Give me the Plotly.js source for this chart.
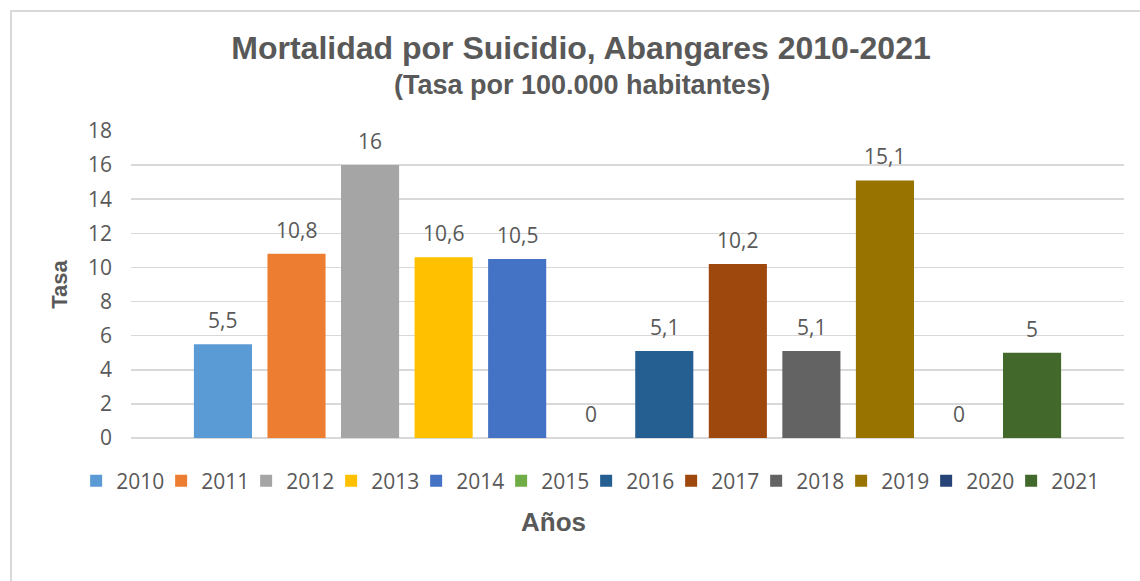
<!DOCTYPE html>
<html>
<head>
<meta charset="utf-8">
<script src="https://cdn.plot.ly/plotly-3.0.1.min.js"></script>
<style>
html, body { margin:0; padding:0; background:#fff; overflow:hidden; }
#chart { position:absolute; left:0; top:0; width:1140px; height:581px; }
#frame { position:absolute; left:10px; top:10px; width:1200px; height:700px; border:2px solid #d9d9d9; pointer-events:none; box-sizing:border-box; }
</style>
</head>
<body>
<div id="chart"></div>
<div id="frame"></div>
<script>
const years = ['2010','2011','2012','2013','2014','2015','2016','2017','2018','2019','2020','2021'];
const tasa = [5.5, 10.8, 16, 10.6, 10.5, 0, 5.1, 10.2, 5.1, 15.1, 0, 5];
const colors = ['#5B9BD5','#ED7D31','#A5A5A5','#FFC000','#4472C4','#70AD47','#255E91','#9E480E','#636363','#997300','#264478','#43682B'];
const yTicks = [0, 2, 4, 6, 8, 10, 12, 14, 16, 18];

const txtColor = '#595959';
const traces = years.map((y, i) => ({
  type: 'bar',
  name: y,
  x: [y],
  y: [tasa[i]],
  width: 0.79,
  marker: { color: colors[i], line: { width: 0 } },
  hoverinfo: 'name+y'
}));

// data labels: category axis position given by category index
const annotations = years.map((y, i) => ({
  x: years.indexOf(y), y: tasa[i], xref: 'x', yref: 'y',
  text: String(tasa[i]).replace('.', ','),
  showarrow: false, yanchor: 'bottom', yshift: 8,
  font: { family: 'Open Sans', size: 21, color: txtColor }
}));
annotations.push({
  xref: 'paper', yref: 'paper', x: (553 - 131) / 993, y: -(522 - 438) / 307,
  xanchor: 'center', yanchor: 'middle', showarrow: false,
  text: '<b>Años</b>',
  font: { family: 'Liberation Sans, Arial, sans-serif', size: 26, color: txtColor }
});
annotations.push({
  xref: 'paper', yref: 'paper', x: (582 - 131) / 993, y: 1 + (131 - 85) / 307,
  xanchor: 'center', yanchor: 'middle', showarrow: false,
  text: '<b>(Tasa por 100.000 habitantes)</b>',
  font: { family: 'Liberation Sans, Arial, sans-serif', size: 27, color: txtColor }
});

const layout = {
  width: 1140, height: 581,
  margin: { l: 131, r: 16, t: 131, b: 143 },
  paper_bgcolor: '#ffffff', plot_bgcolor: '#ffffff',
  barmode: 'overlay',
  separators: ',.',
  title: {
    text: '<b>Mortalidad por Suicidio, Abangares 2010-2021</b>',
    x: 581 / 1140, xanchor: 'center', xref: 'container',
    y: 1 - 48 / 581, yanchor: 'middle', yref: 'container',
    font: { family: 'Liberation Sans, Arial, sans-serif', size: 32, color: txtColor }
  },
  xaxis: {
    type: 'category', range: [-1.25, 12.25], showticklabels: false,
    showgrid: false, zeroline: false, showline: false, ticks: '', fixedrange: true
  },
  yaxis: {
    range: [0, 18], tickvals: yTicks, ticktext: yTicks.map(String),
    showgrid: true, gridcolor: '#d9d9d9', gridwidth: 1.5,
    zeroline: true, zerolinecolor: '#d9d9d9', zerolinewidth: 2,
    showline: false, ticks: '', ticklabelstandoff: 18,
    tickfont: { family: 'Open Sans', size: 21, color: txtColor },
    title: { text: '<b>Tasa</b>', standoff: 14, font: { family: 'Liberation Sans, Arial, sans-serif', size: 22, color: txtColor } }
  },
  showlegend: true,
  legend: {
    orientation: 'h', x: (96 - 131) / 993 - 0.02, xanchor: 'left',
    y: -(481 - 438) / 307, yanchor: 'middle',
    entrywidth: 40, entrywidthmode: 'pixels',
    traceorder: 'normal',
    font: { family: 'Open Sans', size: 21, color: txtColor }
  },
  annotations: annotations
};

Plotly.newPlot('chart', traces, layout, { displayModeBar: false, staticPlot: true });
</script>
</body>
</html>
